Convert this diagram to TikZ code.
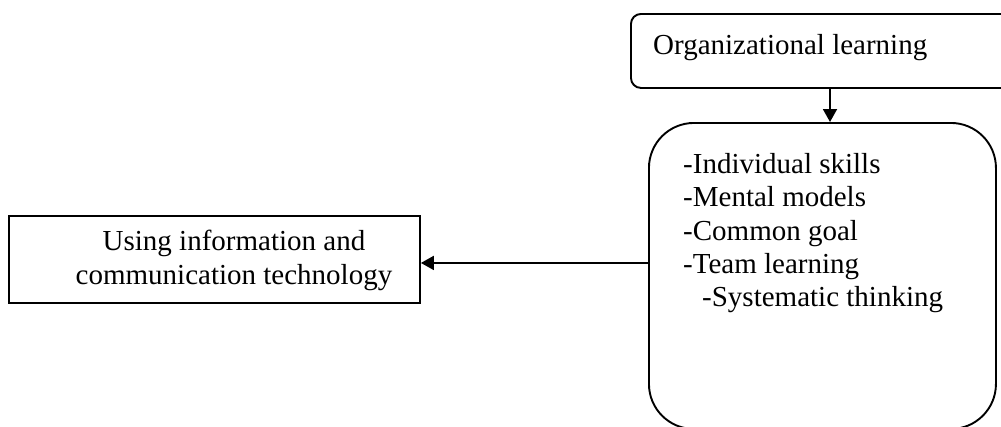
\documentclass[tikz,border=0pt]{standalone}
\usepackage{fontspec}
\setmainfont{Liberation Serif}
\usetikzlibrary{arrows.meta}
\begin{document}
\begin{tikzpicture}[x=1pt,y=-1pt,
  boxline/.style={draw=black, line width=1.9pt, inner sep=0pt},
  txt/.style={inner sep=0pt, font=\fontsize{29pt}{33.3pt}\selectfont},
  arr/.style={draw=black, line width=1.9pt, -{Triangle[length=13pt,width=14pt]}}]
\useasboundingbox (0,0) rectangle (1001,426);
\clip (0,0) rectangle (1001,426);
% top box
\node[boxline, rounded corners=10pt, minimum width=385pt, minimum height=74pt, anchor=north west] (org) at (630,13) {};
\node[txt, anchor=base west] (orgt) at (653,54) {Organizational learning};
% big box
\node[boxline, rounded corners=45pt, minimum width=347pt, minimum height=306pt, anchor=north west] (comp) at (648,122) {};
\node[txt, anchor=north west, align=left] (compt) at (683,153.2) {-Individual skills\\-Mental models\\-Common goal\\-Team learning\\\hspace*{19pt}-Systematic thinking};
% left box
\node[boxline, minimum width=411pt, minimum height=87pt, anchor=north west] (ict) at (8,215) {};
\node[txt, align=center, anchor=base] (ictt) at (234,284) {Using information and\\communication technology};
% connectors
\draw[arr] ([xshift=200pt]org.south west) -- ([xshift=182pt]comp.north west);
\coordinate (ictin) at ([yshift=-3.5pt]ict.east);
\draw[arr] (comp.west |- ictin) -- (ictin);
\end{tikzpicture}
\end{document}
